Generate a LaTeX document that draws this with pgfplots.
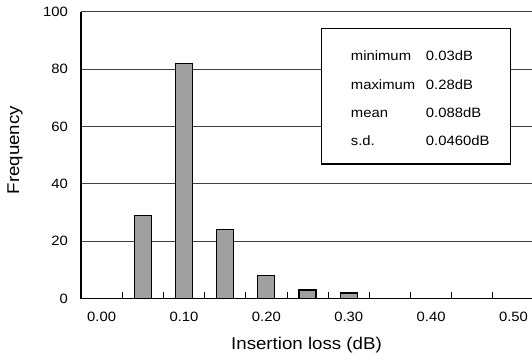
\documentclass[border=0pt]{standalone}
\usepackage{pgfplots}
\pgfplotsset{compat=1.18}
\usepackage{fontspec}
\setmainfont{Liberation Sans}[FakeStretch=1.1]
\definecolor{barfill}{RGB}{160,160,160}
\begin{document}
\begin{tikzpicture}[x=1pt,y=1pt]
\begin{axis}[
  set layers,
  at={(81pt,56.3pt)}, anchor=south west,
  scale only axis, width=451pt, height=287pt,
  xmin=-0.5, xmax=10.45, ymin=0, ymax=100,
  axis x line*=bottom, axis y line*=left,
  x axis line style={-, line width=1.2pt},
  y axis line style={-, line width=1.2pt},
  xtick={0,2,4,6,8,10},
  xticklabels={0.00,0.10,0.20,0.30,0.40,0.50},
  minor xtick={0.5,1.5,2.5,3.5,4.5,5.5,6.5,7.5,8.5,9.5},
  ytick={0,20,40,60,80,100},
  major tick length=0pt, minor tick length=7pt,
  tick align=inside,
  minor tick style={black, line width=0.8pt},
  ymajorgrids,
  major grid style={black!75, line width=0.8pt},
  /pgf/number format/assume math mode=true,
  tick label style={font=\fontsize{13.5}{16}\selectfont},
  xticklabel style={anchor=base, yshift=-23.3pt},
  yticklabel style={anchor=east, inner sep=0pt, xshift=-13pt},
  xlabel={Insertion loss (dB)},
  ylabel={Frequency},
  label style={font=\fontsize{17}{20}\selectfont},
  xlabel style={at={(axis description cs:0.5,0)}, anchor=base, yshift=-51.3pt},
  ylabel style={at={(axis description cs:0,0.5)}, anchor=center, yshift=66pt, xshift=5pt},
]
\addplot[ybar, bar width=17pt, fill=barfill, draw=black, line width=1.2pt]
  coordinates {(1,29) (2,82) (3,24) (4,8) (5,3) (6,2)};
\end{axis}
\draw[black, line width=1.1pt, fill=white] (321.7,{355-28.3}) rectangle (510.7,{355-164});
\begin{scope}[every node/.style={font=\fontsize{13.5}{16}\selectfont, inner sep=0pt, anchor=base west}]
\node at (350.7,{355-60.5}) {minimum};
\node at (425.7,{355-60.5}) {0.03dB};
\node at (350.7,{355-89.1}) {maximum};
\node at (425.7,{355-89.1}) {0.28dB};
\node at (350.7,{355-117.1}) {mean};
\node at (425.7,{355-117.1}) {0.088dB};
\node at (350.7,{355-145.8}) {s.d.};
\node at (425.7,{355-145.8}) {0.0460dB};
\end{scope}
\pgfresetboundingbox
\path[use as bounding box] (0,0) rectangle (532,355);
\end{tikzpicture}
\end{document}
